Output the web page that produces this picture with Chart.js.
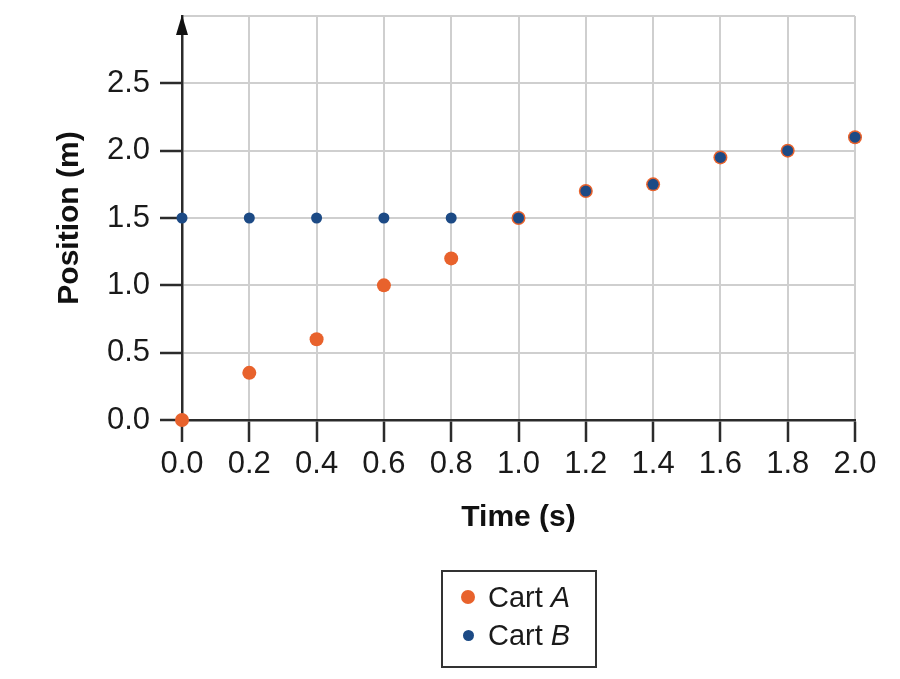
<!DOCTYPE html>
<html lang="en">
<head>
    <meta charset="UTF-8">
    <title>Cart position vs time</title>
    <style>
        html, body { margin: 0; padding: 0; background: #fff; }
        #wrap { position: relative; width: 900px; height: 679px; }
        #chart { position: absolute; left: 0; top: 0; }
        #legend {
            position: absolute; left: 441px; top: 570px;
            width: 152px; height: 88px;
            border: 2px solid #333;
            font-family: "Liberation Sans", Arial, sans-serif;
            font-size: 29px; color: #1a1a1a;
            padding: 6px 0 0 0; box-sizing: content-box;
        }
        .item { display: flex; align-items: center; height: 38px; }
        .dot { border-radius: 50%; }
    </style>
</head>
<body>
    <div id="wrap">
        <canvas id="chart" width="900" height="679"></canvas>
        <div id="legend"></div>
    </div>

    <script src="https://cdn.jsdelivr.net/npm/chart.js"></script>
    <script>
        // Dados
        const times = [0.0, 0.2, 0.4, 0.6, 0.8, 1.0, 1.2, 1.4, 1.6, 1.8, 2.0];
        const cartA = [0.0, 0.35, 0.6, 1.0, 1.2, 1.5, 1.7, 1.75, 1.95, 2.0, 2.1];
        const cartB = [1.5, 1.5, 1.5, 1.5, 1.5, 1.5, 1.7, 1.75, 1.95, 2.0, 2.1];
        const seriesNames = ['Cart A', 'Cart B'];
        const yTicks = [0.0, 0.5, 1.0, 1.5, 2.0, 2.5];

        const orange = '#e8622c';
        const blue = '#1c4a85';
        const dark = '#2b2b2b';
        const gridGray = '#cfcfcf';
        const font = '"Liberation Sans", Arial, sans-serif';

        const toPoints = vals => vals.map((v, i) => ({ x: times[i], y: v }));

        // seta no topo do eixo y
        const arrowPlugin = {
            id: 'arrow',
            afterDraw(chart) {
                const { ctx, chartArea } = chart;
                const x = chartArea.left, y = chartArea.top - 1;
                ctx.save();
                ctx.fillStyle = '#111';
                ctx.beginPath();
                ctx.moveTo(x, y);
                ctx.lineTo(x - 6, y + 20);
                ctx.lineTo(x + 6, y + 20);
                ctx.closePath();
                ctx.fill();
                ctx.restore();
            }
        };

        const chart = new Chart(document.getElementById('chart'), {
            type: 'scatter',
            data: {
                datasets: [
                    {
                        label: seriesNames[0],
                        data: toPoints(cartA),
                        backgroundColor: orange,
                        borderColor: orange,
                        pointRadius: 7,
                        borderWidth: 0,
                        clip: false,
                        order: 2
                    },
                    {
                        label: seriesNames[1],
                        data: toPoints(cartB),
                        backgroundColor: blue,
                        borderColor: blue,
                        pointRadius: 5.5,
                        borderWidth: 0,
                        clip: false,
                        order: 1
                    }
                ]
            },
            options: {
                responsive: false,
                animation: false,
                layout: { padding: { left: 52, right: 45, top: 16, bottom: 143 } },
                plugins: {
                    legend: { display: false },
                    tooltip: { enabled: false }
                },
                scales: {
                    x: {
                        type: 'linear',
                        min: 0,
                        max: 2,
                        afterBuildTicks: s => { s.ticks = times.map(v => ({ value: v })); },
                        afterFit: s => { s.height = 116; s.paddingLeft = 0; s.paddingRight = 0; },
                        ticks: {
                            callback: v => v.toFixed(1),
                            color: '#1a1a1a',
                            font: { family: font, size: 31 },
                            padding: 4,
                            maxRotation: 0
                        },
                        grid: { color: gridGray, lineWidth: 2, tickLength: 22, tickColor: dark, tickWidth: 2.5 },
                        border: { color: dark, width: 2.5 },
                        title: {
                            display: true,
                            text: 'Time (s)',
                            color: '#111',
                            font: { family: font, size: 30, weight: 'bold', lineHeight: 1.2 },
                            padding: 0
                        }
                    },
                    y: {
                        type: 'linear',
                        min: 0,
                        max: 3,
                        afterBuildTicks: s => { s.ticks = yTicks.concat([3]).map(v => ({ value: v })); },
                        afterFit: s => { s.width = 130; s.paddingTop = 0; s.paddingBottom = 0; },
                        ticks: {
                            callback: v => (yTicks.includes(v) ? v.toFixed(1) : ''),
                            color: '#1a1a1a',
                            font: { family: font, size: 31 },
                            padding: 10
                        },
                        grid: {
                            color: gridGray,
                            lineWidth: 2,
                            tickLength: 22,
                            tickWidth: 2.5,
                            tickColor: c => (c.tick && yTicks.includes(c.tick.value) ? dark : 'rgba(0,0,0,0)')
                        },
                        border: { color: dark, width: 2.5 },
                        title: {
                            display: true,
                            text: 'Position (m)',
                            color: '#111',
                            font: { family: font, size: 30, weight: 'bold', lineHeight: 1.2 },
                            padding: 0
                        }
                    }
                }
            },
            plugins: [arrowPlugin]
        });

        // legenda em HTML (para o A/B em itálico)
        const legend = document.getElementById('legend');
        chart.data.datasets.forEach(ds => {
            const parts = ds.label.split(' ');
            const r = ds.pointRadius;
            const item = document.createElement('div');
            item.className = 'item';
            item.style.paddingLeft = (25 - r) + 'px';
            item.innerHTML = '<span class="dot" style="width:' + (2 * r) + 'px;height:' + (2 * r) +
                'px;background:' + ds.backgroundColor + ';margin-right:' + (20 - r) + 'px"></span>' +
                '<span>' + parts[0] + ' <i>' + parts[1] + '</i></span>';
            legend.appendChild(item);
        });
    </script>
</body>
</html>
